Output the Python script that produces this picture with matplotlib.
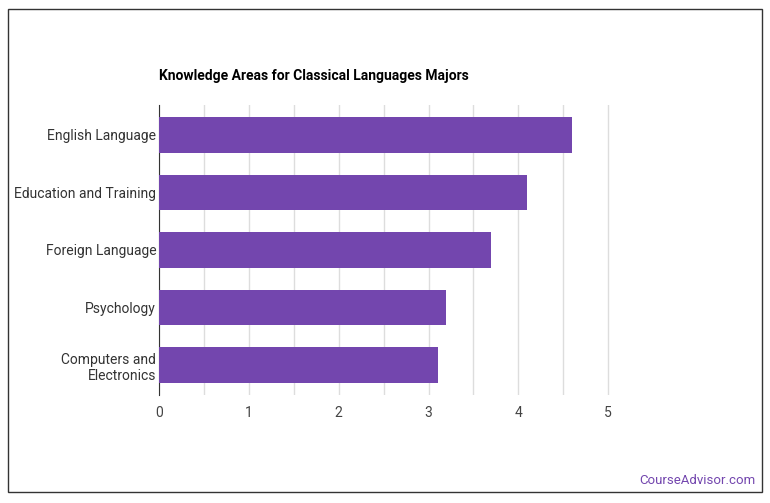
import matplotlib
matplotlib.use("Agg")
import matplotlib.pyplot as plt
from matplotlib.patches import Rectangle

categories = ["English Language", "Education and Training", "Foreign Language", "Psychology", "Computers and\nElectronics"]
values = [4.6, 4.1, 3.7, 3.2, 3.1]
ticks = [0, 1, 2, 3, 4, 5]

plt.rcParams['font.family'] = ['Roboto', 'DejaVu Sans']
fig = plt.figure(figsize=(7.7, 5.03), dpi=100)
fig.patches.append(Rectangle((8/770, 1-492/503), 754/770, 483/503, transform=fig.transFigure,
                             fill=False, edgecolor='#333333', linewidth=1))
ax = fig.add_axes([159/770, 1-395/503, 451/770, 290/503])
y = list(range(len(categories)))
ax.barh(y, values, height=0.62, color='#7346ae', zorder=3)
ax.set_ylim(4.52, -0.52)
ax.set_xlim(0, 5.02)
ax.set_yticks(y)
ax.set_yticklabels(categories, fontsize=10, color='#333333')
ax.set_xticks(ticks)
ax.set_xticklabels([str(t) for t in ticks], fontsize=10, color='#444444')
ax.set_xticks([0.5, 1.5, 2.5, 3.5, 4.5], minor=True)
ax.grid(axis='x', which='both', color='#dddddd', linewidth=1, zorder=0)
for s in ['top', 'right', 'bottom']:
    ax.spines[s].set_visible(False)
ax.spines['left'].set_color('#333333')
ax.tick_params(axis='y', length=0, pad=2)
ax.tick_params(axis='x', which='both', length=0, pad=8)
fig.text(159/770, 1-76/503, "Knowledge Areas for Classical Languages Majors", fontsize=10,
         fontweight='bold', va='center', ha='left')
fig.text(755/770, 1-481/503, "CourseAdvisor.com", fontsize=9.5, color='#7346ae', ha='right', va='center')
fig.savefig("out.png", dpi=100)
